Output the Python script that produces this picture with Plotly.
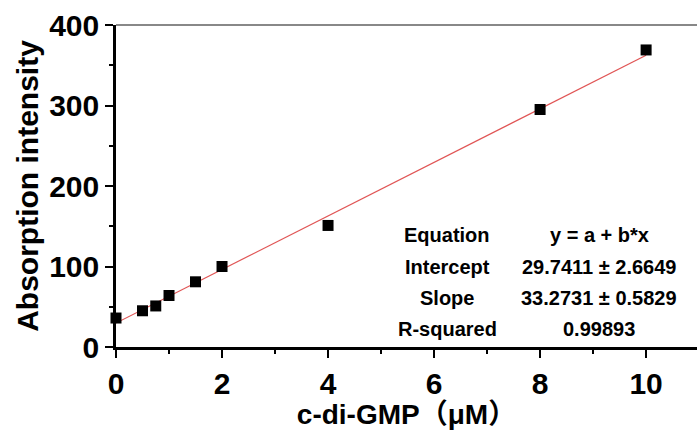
import plotly.graph_objects as go

# Data
conc = [0, 0.5, 0.75, 1, 1.5, 2, 4, 8, 10]
intensity = [36, 45, 51, 64, 81, 100, 151, 295, 369]

# Linear fit parameters shown in the chart
intercept = 29.7411
slope = 33.2731
fit_x = [0, 10]
fit_y = [intercept + slope * v for v in fit_x]

table_labels = ["Equation", "Intercept", "Slope", "R-squared"]
table_values = ["y = a + b*x", "29.7411 ± 2.6649", "33.2731 ± 0.5829", "0.99893"]

x_ticks = [0, 2, 4, 6, 8, 10]
y_ticks = [0, 100, 200, 300, 400]

FONT = "Arial, Liberation Sans, sans-serif"

fig = go.Figure()
fig.add_trace(go.Scatter(x=fit_x, y=fit_y, mode="lines",
                         line=dict(color="#e05555", width=1.2), hoverinfo="skip"))
fig.add_trace(go.Scatter(x=conc, y=intensity, mode="markers",
                         marker=dict(symbol="square", size=11, color="black"),
                         cliponaxis=False))

row_y = [139, 99.5, 61, 22.5]
for lab, val, yy in zip(table_labels, table_values, row_y):
    fig.add_annotation(x=6.25, y=yy, xref="x", yref="y", text=lab, showarrow=False,
                       font=dict(family=FONT, size=20, color="black", weight="bold"),
                       xanchor="center", yanchor="middle")
    fig.add_annotation(x=9.12, y=yy, xref="x", yref="y", text=val, showarrow=False,
                       font=dict(family=FONT, size=20, color="black", weight="bold"),
                       xanchor="center", yanchor="middle")

fig.add_shape(type="line", xref="paper", yref="paper", x0=0, x1=1, y0=1, y1=1,
              line=dict(color="#888888", width=2))

fig.update_layout(
    width=697, height=430,
    margin=dict(l=116, r=0, t=25, b=83),
    paper_bgcolor="white", plot_bgcolor="white",
    showlegend=False,
    font=dict(family=FONT, color="black"),
)
fig.update_xaxes(
    range=[0, 10.96], tickvals=x_ticks, ticktext=[str(v) for v in x_ticks],
    automargin=False,
    showgrid=False, zeroline=False,
    showline=True, linecolor="black", linewidth=2.5,
    ticks="outside", ticklen=8, tickwidth=2, tickcolor="black",
    minor=dict(tickvals=[1, 3, 5, 7, 9], ticks="outside", ticklen=4, tickwidth=2, tickcolor="black"),
    tickfont=dict(family=FONT, size=30, color="black", weight="bold"),
    title=dict(text="c-di-GMP（μM）", standoff=4,
               font=dict(family="Arial, Liberation Sans, Noto Sans CJK SC, sans-serif", size=28, color="black", weight="bold")),
)
fig.update_yaxes(
    range=[0, 400], tickvals=y_ticks, ticktext=[str(v) for v in y_ticks],
    automargin=False,
    showgrid=False, zeroline=False,
    showline=True, linecolor="black", linewidth=2.5,
    ticks="outside", ticklen=8, tickwidth=2, tickcolor="black",
    minor=dict(tickvals=[50, 150, 250, 350], ticks="outside", ticklen=4, tickwidth=2, tickcolor="black"),
    tickfont=dict(family=FONT, size=30, color="black", weight="bold"),
    title=dict(text="Absorption intensity", standoff=2,
               font=dict(family=FONT, size=30, color="black", weight="bold")),
)

fig.write_html("out.html", config={"displayModeBar": False},
               post_script="document.body.style.margin='0';")
